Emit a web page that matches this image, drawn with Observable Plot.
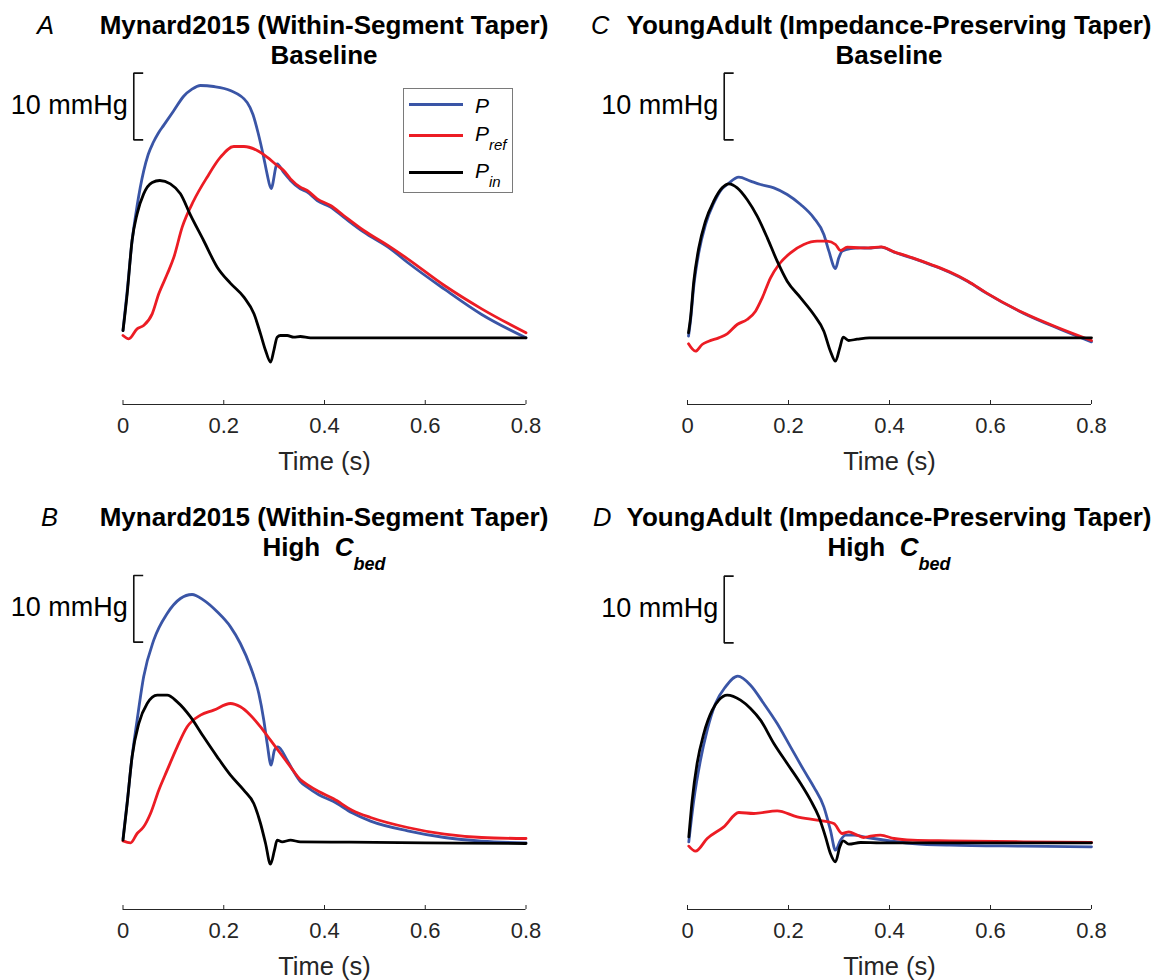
<!DOCTYPE html>
<html>
<head>
<meta charset="utf-8">
<script src="https://cdn.jsdelivr.net/npm/d3@7"></script>
<script src="https://cdn.jsdelivr.net/npm/@observablehq/plot@0.6"></script>
<style>
  html, body { margin:0; padding:0; background:#fff; overflow:hidden; }
  #stage { position:relative; width:1158px; height:980px; overflow:hidden;
           font-family:"Liberation Sans", Arial, Helvetica, sans-serif; color:#000; }
  .abs { position:absolute; white-space:nowrap; }
  .title { font-weight:bold; font-size:26px; line-height:30px; text-align:center; transform:translateX(-50%); }
  .letter { font-style:italic; font-size:25.5px; line-height:30px; }
  .tsub { font-size:18px; position:relative; top:14px; }
  .legend { border:1px solid #7a7a7a; box-sizing:border-box; background:#fff; }
  .lg-line { position:absolute; height:3px; }
  .lg-lab { position:absolute; font-style:italic; font-size:21px; line-height:24px; }
  .lg-sub { font-size:15px; position:relative; top:9px; }
  #stage svg { position:absolute; overflow:visible; }
</style>
</head>
<body>
<div id="stage"></div>
<script>
// ---------------- data ----------------
const xTicks = [0, 0.2, 0.4, 0.6, 0.8];
const xLabel = "Time (s)";
const yDomain = [-10, 40];          // mmHg (relative), y axis hidden
const scaleBarMmHg = 10;
const scaleBarLabel = "10 mmHg";
const scaleBarArm = 0.0187;         // s
const seriesColors = ["#3a55a6", "#ec1c24", "#000000"]; // P, Pref, Pin
const panelLetters = ["A", "B", "C", "D"];
const modelTitles = ["Mynard2015 (Within-Segment Taper)", "YoungAdult (Impedance-Preserving Taper)"];

// Panel A : Mynard2015, Baseline
const tA_P = [0, 0.008, 0.018, 0.028, 0.041, 0.050, 0.060, 0.070, 0.081, 0.101, 0.120, 0.137, 0.154, 0.180, 0.213, 0.2465, 0.258, 0.268, 0.2795, 0.286, 0.294, 0.306, 0.319, 0.3325, 0.352, 0.3657, 0.3855, 0.412, 0.438, 0.478, 0.531, 0.565, 0.638, 0.712, 0.8];
const A_P  = [1.1, 6.8, 14.5, 19.8, 25.0, 27.5, 29.3, 30.7, 31.9, 34.1, 36.2, 37.3, 37.85, 37.7, 37.1, 35.3, 33.5, 30.8, 27.0, 24.6, 22.4, 26.1, 24.8, 23.6, 22.35, 21.85, 20.6, 19.6, 18.1, 15.85, 13.35, 11.3, 7.3, 3.5, 0];
const tA_Pref = [0, 0.0115, 0.028, 0.041, 0.058, 0.071, 0.088, 0.101, 0.1175, 0.1405, 0.167, 0.1935, 0.22, 0.240, 0.2664, 0.286, 0.306, 0.319, 0.3325, 0.352, 0.3657, 0.3855, 0.412, 0.438, 0.478, 0.531, 0.565, 0.638, 0.712, 0.8];
const A_Pref  = [0.35, -0.15, 1.35, 1.85, 3.6, 6.6, 9.6, 12.1, 16.6, 20.6, 24.1, 27.1, 28.7, 28.7, 28.1, 27.1, 25.85, 25.1, 23.85, 22.6, 22.1, 20.85, 19.85, 18.35, 16.1, 13.6, 11.85, 7.85, 4.35, 0.75];
const tA_Pin = [0, 0.0083, 0.018, 0.028, 0.041, 0.058, 0.073, 0.094, 0.114, 0.134, 0.160, 0.187, 0.213, 0.240, 0.26, 0.273, 0.283, 0.293, 0.2994, 0.306, 0.3127, 0.326, 0.339, 0.352, 0.372, 0.45, 0.6, 0.8];
const A_Pin  = [1.1, 6.6, 14.6, 18.6, 21.6, 23.3, 23.6, 23.1, 21.6, 18.4, 14.6, 10.6, 8.2, 6.1, 3.6, 0.6, -1.9, -3.65, -1.9, 0.1, 0.35, 0.35, 0.1, 0.2, 0, 0, 0, 0];

// Panel B : Mynard2015, High Cbed
const tB_P = [0, 0.008, 0.018, 0.028, 0.041, 0.061, 0.0877, 0.114, 0.137, 0.160, 0.187, 0.2134, 0.233, 0.253, 0.2696, 0.2795, 0.2862, 0.294, 0.3007, 0.3073, 0.326, 0.3372, 0.352, 0.3666, 0.3886, 0.418, 0.4547, 0.4915, 0.565, 0.6384, 0.7119, 0.8];
const B_P  = [0.6, 5.9, 12.9, 18.4, 24.9, 30.4, 34.4, 36.65, 37.25, 36.4, 34.65, 32.4, 29.9, 26.4, 22.4, 18.4, 14.9, 11.65, 13.9, 14.4, 12.4, 10.9, 9.2, 8.3, 7.2, 6.2, 4.5, 3.25, 1.8, 0.8, 0.25, 0];
const tB_Pref = [0, 0.015, 0.028, 0.041, 0.0546, 0.071, 0.0877, 0.1076, 0.1274, 0.1538, 0.180, 0.2134, 0.233, 0.253, 0.273, 0.2928, 0.3127, 0.3325, 0.352, 0.3666, 0.3886, 0.418, 0.4547, 0.4915, 0.565, 0.6384, 0.7119, 0.8];
const B_Pref  = [0.3, 0, 1.4, 2.4, 4.4, 7.9, 10.9, 14.4, 17.4, 19.15, 19.9, 20.9, 20.4, 19.15, 17.4, 15.4, 13.4, 11.4, 9.5, 8.7, 7.7, 6.6, 4.9, 3.8, 2.3, 1.3, 0.8, 0.65];
const tB_Pin = [0, 0.0083, 0.018, 0.0314, 0.048, 0.068, 0.0877, 0.1076, 0.134, 0.160, 0.187, 0.2134, 0.2398, 0.2596, 0.273, 0.283, 0.2928, 0.3007, 0.306, 0.316, 0.3325, 0.352, 0.45, 0.6, 0.8];
const B_Pin  = [0.4, 5.9, 12.9, 17.9, 20.9, 22.15, 22.15, 21.15, 18.9, 15.9, 12.9, 10.15, 7.9, 5.9, 2.9, -0.1, -3.2, -1.1, 0.4, 0.15, 0.4, 0.15, 0.1, 0, -0.1];

// Panel C : YoungAdult, Baseline
const tC_P = [0.002, 0.006, 0.0125, 0.0224, 0.0356, 0.052, 0.0687, 0.0786, 0.1016, 0.1248, 0.1446, 0.171, 0.1974, 0.224, 0.25, 0.27, 0.28, 0.293, 0.2996, 0.3063, 0.3228, 0.3426, 0.358, 0.3836, 0.409, 0.4457, 0.4822, 0.5187, 0.5553, 0.5918, 0.6649, 0.7379, 0.8];
const C_P  = [0.25, 2.6, 7.8, 12.8, 17.0, 20.2, 22.4, 23.0, 24.1, 23.5, 23.0, 22.5, 21.5, 20.0, 18.0, 15.5, 13.0, 10.4, 12.0, 13.0, 13.4, 13.5, 13.45, 13.6, 12.85, 11.95, 10.95, 9.85, 8.45, 6.7, 3.7, 1.3, -0.6];
const tC_Pref = [0.002, 0.0158, 0.029, 0.042, 0.062, 0.0786, 0.0984, 0.118, 0.1347, 0.148, 0.1644, 0.181, 0.204, 0.2303, 0.2568, 0.2766, 0.293, 0.303, 0.3162, 0.3426, 0.358, 0.3836, 0.409, 0.4457, 0.4822, 0.5187, 0.5553, 0.5918, 0.6649, 0.7379, 0.8];
const C_Pref  = [-0.9, -2.0, -1.0, -0.5, 0, 0.6, 2.0, 2.75, 4.0, 6.0, 9.0, 11.0, 12.75, 14.0, 14.5, 14.5, 14.0, 13.1, 13.6, 13.5, 13.5, 13.65, 12.9, 12.0, 11.0, 9.9, 8.5, 6.75, 3.75, 1.4, -0.4];
const tC_Pin = [0.002, 0.006, 0.0125, 0.0224, 0.0356, 0.052, 0.0687, 0.0818, 0.0984, 0.118, 0.138, 0.158, 0.1776, 0.1974, 0.224, 0.25, 0.27, 0.283, 0.293, 0.3016, 0.3083, 0.319, 0.336, 0.36, 0.45, 0.6, 0.8];
const C_Pin  = [0.75, 3.0, 8.5, 13.5, 17.5, 20.5, 22.5, 23.1, 22.5, 20.75, 18.25, 15.0, 11.5, 8.5, 6.0, 3.5, 1.0, -2.0, -3.5, -1.5, 0.1, -0.4, -0.2, 0, 0, 0, 0];

// Panel D : YoungAdult, High Cbed
const tD_P = [0.0026, 0.0125, 0.0257, 0.039, 0.0554, 0.0752, 0.0996, 0.1248, 0.151, 0.1776, 0.204, 0.2303, 0.25, 0.27, 0.283, 0.293, 0.303, 0.313, 0.3294, 0.356, 0.382, 0.4457, 0.5187, 0.665, 0.8];
const D_P  = [0.15, 6.4, 12.4, 16.9, 20.9, 23.4, 25.0, 23.65, 20.9, 17.9, 14.4, 10.9, 8.4, 5.4, 1.9, -1.1, 0.4, 1.15, 1.15, 0.8, 0.5, -0.1, -0.35, -0.5, -0.6];
const tD_Pref = [0.0026, 0.0158, 0.039, 0.0719, 0.1016, 0.1313, 0.1776, 0.2172, 0.2568, 0.2897, 0.3063, 0.3194, 0.336, 0.349, 0.3624, 0.382, 0.409, 0.4457, 0.5187, 0.665, 0.8];
const D_Pref  = [-0.5, -1.25, 0.65, 2.4, 4.55, 4.4, 4.8, 3.9, 3.4, 2.9, 1.4, 1.65, 1.15, 0.8, 1.0, 1.15, 0.65, 0.4, 0.3, 0.15, 0.05];
const tD_Pin = [0.0026, 0.0093, 0.019, 0.0323, 0.049, 0.062, 0.0786, 0.105, 0.1248, 0.1446, 0.171, 0.1974, 0.224, 0.2436, 0.26, 0.2733, 0.283, 0.293, 0.3016, 0.3083, 0.3194, 0.3426, 0.382, 0.6, 0.8];
const D_Pin  = [0.9, 6.4, 11.9, 16.4, 19.9, 21.4, 22.15, 21.4, 20.15, 18.4, 14.9, 11.9, 8.9, 6.4, 3.9, 0.9, -1.6, -2.85, -0.6, 0.3, -0.2, 0.05, 0, 0, 0];

// scale bar positions (time of the bar, lower end in mmHg)
const scaleBarT   = [0.0214, 0.0214, 0.0727, 0.0727];
const scaleBarLow = [29.7, 30.1, 29.7, 30.0];

// ---------------- layout (styles) ----------------
const cols = [
  {left: 0,   width: 580, ax0: 122.5, ax1: 525.5, letterX: 37},
  {left: 580, width: 578, ax0: 687,   ax1: 1091,  letterX: 591}
];
const rows = [
  {axisY: 404,   titleY: 24.5},
  {axisY: 909.4, titleY: 517}
];
const SVG_H = 420, MT = 10.667, MB = 76;
const FONT = '"Liberation Sans", Arial, Helvetica, sans-serif';

const panels = [
  {letter: "A", col: 0, row: 0, model: 0, cond: "base", tP: tA_P, P: A_P, tR: tA_Pref, R: A_Pref, tI: tA_Pin, I: A_Pin, k: 0},
  {letter: "B", col: 0, row: 1, model: 0, cond: "high", tP: tB_P, P: B_P, tR: tB_Pref, R: B_Pref, tI: tB_Pin, I: B_Pin, k: 1},
  {letter: "C", col: 1, row: 0, model: 1, cond: "base", tP: tC_P, P: C_P, tR: tC_Pref, R: C_Pref, tI: tC_Pin, I: C_Pin, k: 2},
  {letter: "D", col: 1, row: 1, model: 1, cond: "high", tP: tD_P, P: D_P, tR: tD_Pref, R: D_Pref, tI: tD_Pin, I: D_Pin, k: 3}
];

const stage = document.getElementById("stage");
const toRows = (t, v) => t.map((x, i) => ({t: x, v: v[i]}));

function makePanel(p) {
  const c = cols[p.col], r = rows[p.row];
  const plotH = SVG_H - MT - MB;
  const barT = scaleBarT[p.k], barLow = scaleBarLow[p.k];
  const bar = [
    {t: barT + scaleBarArm, v: barLow + scaleBarMmHg},
    {t: barT, v: barLow + scaleBarMmHg},
    {t: barT, v: barLow},
    {t: barT + scaleBarArm, v: barLow}
  ];
  const series = [toRows(p.tP, p.P), toRows(p.tR, p.R), toRows(p.tI, p.I)];
  const svg = Plot.plot({
    width: c.width, height: SVG_H,
    marginLeft: c.ax0 - c.left, marginRight: c.left + c.width - c.ax1,
    marginTop: MT, marginBottom: MB,
    x: {domain: [0, 0.8]},
    y: {domain: yDomain, axis: null},
    style: {fontFamily: FONT, background: "transparent", overflow: "visible"},
    marks: [
      Plot.ruleY([yDomain[0]], {stroke: "#262626", strokeWidth: 1}),
      Plot.tickX(xTicks, {x: d => d, stroke: "#262626", strokeWidth: 1, insetTop: plotH - 4}),
      Plot.axisX({ticks: xTicks, tickSize: 0, tickPadding: 13, tickFormat: d => String(d),
                  fontSize: 22, color: "#262626", label: null}),
      Plot.text([xLabel], {frameAnchor: "bottom", lineAnchor: "middle", dy: 57, fontSize: 25.5, fill: "#262626"}),
      Plot.line(bar, {x: "t", y: "v", stroke: "#111", strokeWidth: 1.6, strokeLinecap: "butt", strokeLinejoin: "miter"}),
      Plot.text([{t: barT, v: barLow + scaleBarMmHg / 2}], {x: "t", y: "v", text: () => scaleBarLabel,
                  textAnchor: "end", dx: -6, dy: -1, fontSize: 27, fill: "#000"}),
      ...series.map((s, i) => Plot.line(s, {x: "t", y: "v", stroke: seriesColors[i], strokeWidth: 2.8, curve: "monotone-x"}))
    ]
  });
  svg.style.left = c.left + "px";
  svg.style.top = (r.axisY - (SVG_H - MB)) + "px";
  stage.appendChild(svg);
}

panels.forEach(makePanel);

// titles and panel letters
panels.forEach(p => {
  const c = cols[p.col], r = rows[p.row];
  const t = document.createElement("div");
  t.className = "abs title";
  t.style.left = ((c.ax0 + c.ax1) / 2) + "px";
  t.style.top = (r.titleY - 15) + "px";
  const line2 = p.cond === "base" ? "Baseline"
    : 'High&nbsp;&nbsp;<i>C<span class="tsub">bed</span></i>';
  t.innerHTML = modelTitles[p.model] + "<br>" + line2;
  stage.appendChild(t);

  const L = document.createElement("div");
  L.className = "abs letter";
  L.style.left = (c.letterX + (p.row === 1 && p.col === 0 ? 4 : p.row === 1 ? 2 : 0)) + "px";
  L.style.top = (r.titleY - 15) + "px";
  L.textContent = p.letter;
  stage.appendChild(L);
});

// legend (panel A)
const legendNames = ["P", "P", "P"];
const legendSubs = ["", "ref", "in"];
const legendLineY = [104, 135.7, 172.3];
const legendLabelY = [105.8, 134, 170.7];
const box = document.createElement("div");
box.className = "abs legend";
const BX = 403, BY = 88;
box.style.left = BX + "px"; box.style.top = BY + "px";
box.style.width = "110px"; box.style.height = "105px";
legendNames.forEach((n, i) => {
  const ln = document.createElement("div");
  ln.className = "lg-line";
  ln.style.left = (409 - BX - 1) + "px";
  ln.style.width = "54px";
  ln.style.top = (legendLineY[i] - BY - 1 - 1.5) + "px";
  ln.style.background = seriesColors[i];
  box.appendChild(ln);
  const lb = document.createElement("div");
  lb.className = "lg-lab";
  lb.style.left = (475 - BX - 1) + "px";
  lb.style.top = (legendLabelY[i] - 12 - BY - 1) + "px";
  lb.innerHTML = n + (legendSubs[i] ? '<span class="lg-sub">' + legendSubs[i] + '</span>' : "");
  box.appendChild(lb);
});
stage.appendChild(box);
</script>
</body>
</html>
